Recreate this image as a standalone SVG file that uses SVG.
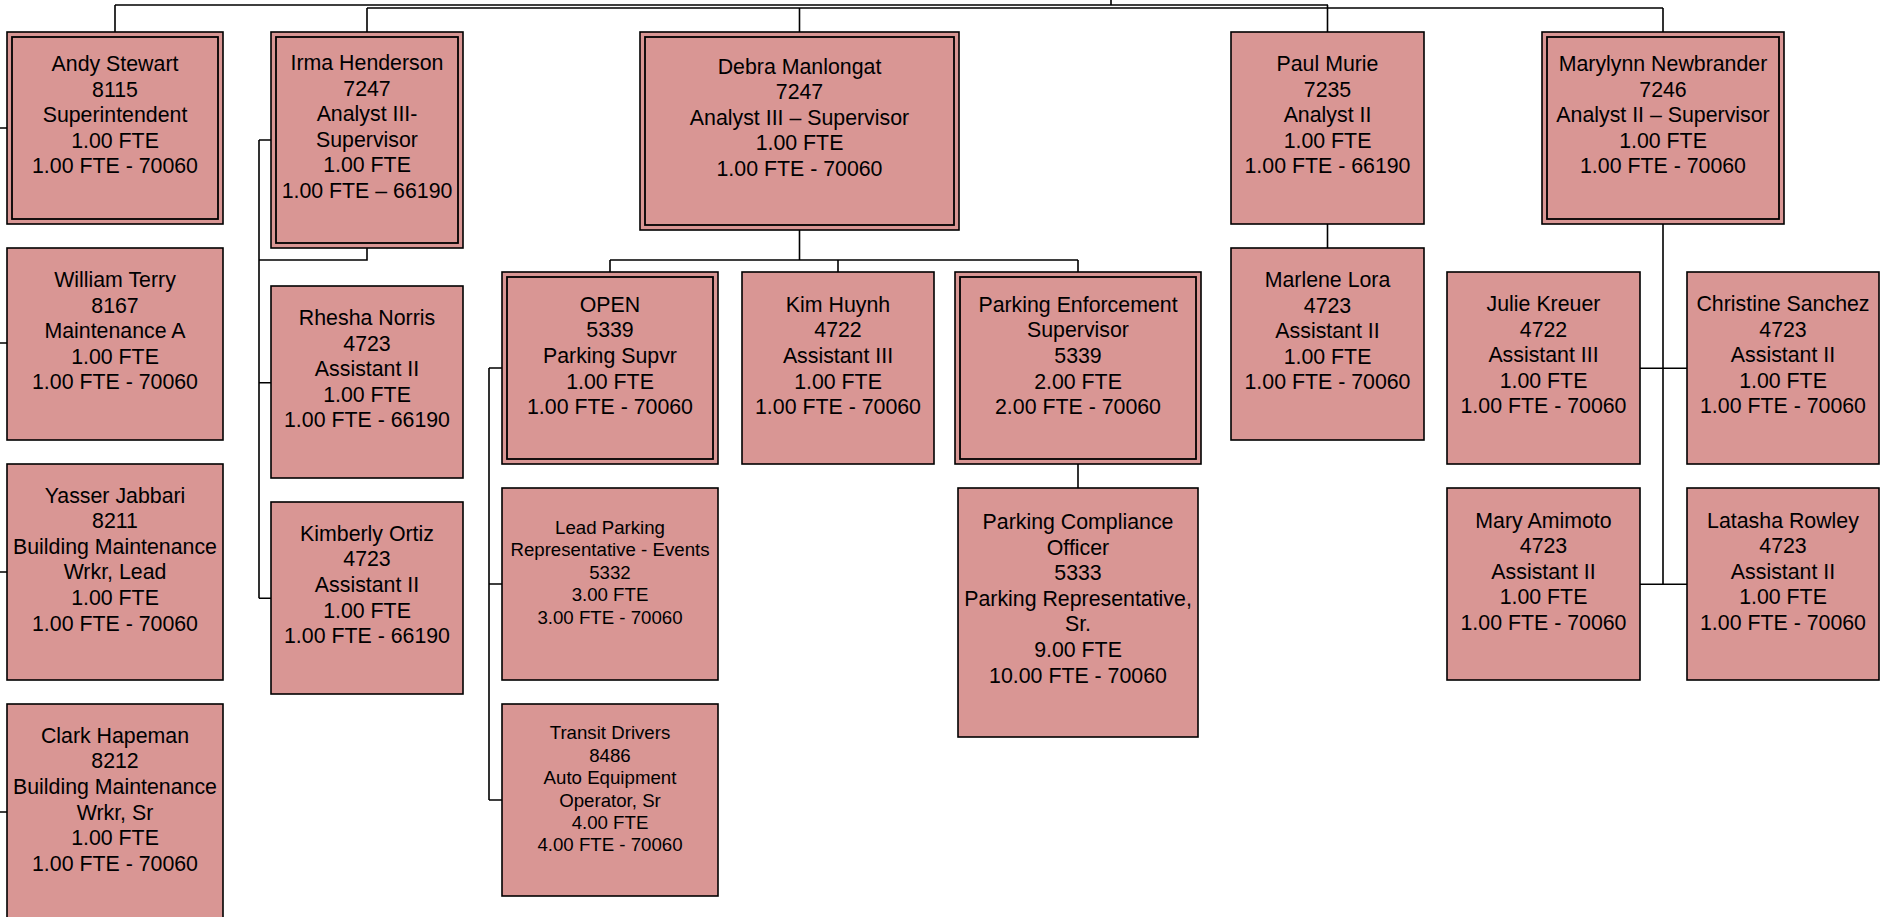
<svg xmlns="http://www.w3.org/2000/svg" width="1880" height="917" viewBox="0 0 1880 917">
<style>
.box{fill:#D99694;stroke:#000;stroke-width:1.6}
.inner{fill:none;stroke:#000;stroke-width:1.8}
.t{font-family:"Liberation Sans",Arial,sans-serif;font-size:21.33px;fill:#000;text-anchor:middle}
.s{font-size:18.67px}
.c{fill:none;stroke:#000;stroke-width:1.6}
</style>
<rect width="1880" height="917" fill="#fff"/>
<g id="connectors" class="c">
<path d="M115,5H1328M367,8H1663M1111,0V5"/>
<path d="M115,5V32M367,8V32M799.5,8V32M1327.5,5V32M1663,8V32"/>
<path d="M0,128H7M0,343H7M0,572H7M0,812H7"/>
<path d="M367,248V260H259M259,140H271M259,140V598.3M259,382.7H271M259,598.3H271"/>
<path d="M799.5,230V260M610,260H1078M610,260V272M838,260V272M1078,260V272"/>
<path d="M489,368H502M489,368V800M489,584H502M489,800H502"/>
<path d="M1078,464V488"/>
<path d="M1327.5,224V248"/>
<path d="M1663,224V584.3M1640,368.3H1687M1640,584.3H1687"/>
</g>
<g id="andy-stewart">
<rect class="box" x="7" y="32" width="216" height="192"/>
<rect class="inner" x="12" y="37" width="206" height="182"/>
<text class="t" x="115" y="71"><tspan x="115">Andy Stewart</tspan><tspan x="115" dy="25.6">8115</tspan><tspan x="115" dy="25.6">Superintendent</tspan><tspan x="115" dy="25.6">1.00 FTE</tspan><tspan x="115" dy="25.6">1.00 FTE - 70060</tspan></text>
</g>
<g id="william-terry">
<rect class="box" x="7" y="248" width="216" height="192"/>
<text class="t" x="115" y="287"><tspan x="115">William Terry</tspan><tspan x="115" dy="25.6">8167</tspan><tspan x="115" dy="25.6">Maintenance A</tspan><tspan x="115" dy="25.6">1.00 FTE</tspan><tspan x="115" dy="25.6">1.00 FTE - 70060</tspan></text>
</g>
<g id="yasser-jabbari">
<rect class="box" x="7" y="464" width="216" height="216"/>
<text class="t" x="115" y="502.5"><tspan x="115">Yasser Jabbari</tspan><tspan x="115" dy="25.6">8211</tspan><tspan x="115" dy="25.6">Building Maintenance</tspan><tspan x="115" dy="25.6">Wrkr, Lead</tspan><tspan x="115" dy="25.6">1.00 FTE</tspan><tspan x="115" dy="25.6">1.00 FTE - 70060</tspan></text>
</g>
<g id="clark-hapeman">
<rect class="box" x="7" y="704" width="216" height="220"/>
<text class="t" x="115" y="742.7"><tspan x="115">Clark Hapeman</tspan><tspan x="115" dy="25.6">8212</tspan><tspan x="115" dy="25.6">Building Maintenance</tspan><tspan x="115" dy="25.6">Wrkr, Sr</tspan><tspan x="115" dy="25.6">1.00 FTE</tspan><tspan x="115" dy="25.6">1.00 FTE - 70060</tspan></text>
</g>
<g id="irma-henderson">
<rect class="box" x="271" y="32" width="192" height="216"/>
<rect class="inner" x="276" y="37" width="182" height="206"/>
<text class="t" x="367" y="70"><tspan x="367">Irma Henderson</tspan><tspan x="367" dy="25.6">7247</tspan><tspan x="367" dy="25.6">Analyst III-</tspan><tspan x="367" dy="25.6">Supervisor</tspan><tspan x="367" dy="25.6">1.00 FTE</tspan><tspan x="367" dy="25.6">1.00 FTE – 66190</tspan></text>
</g>
<g id="rhesha-norris">
<rect class="box" x="271" y="286" width="192" height="192"/>
<text class="t" x="367" y="325"><tspan x="367">Rhesha Norris</tspan><tspan x="367" dy="25.6">4723</tspan><tspan x="367" dy="25.6">Assistant II</tspan><tspan x="367" dy="25.6">1.00 FTE</tspan><tspan x="367" dy="25.6">1.00 FTE - 66190</tspan></text>
</g>
<g id="kimberly-ortiz">
<rect class="box" x="271" y="502" width="192" height="192"/>
<text class="t" x="367" y="540.7"><tspan x="367">Kimberly Ortiz</tspan><tspan x="367" dy="25.6">4723</tspan><tspan x="367" dy="25.6">Assistant II</tspan><tspan x="367" dy="25.6">1.00 FTE</tspan><tspan x="367" dy="25.6">1.00 FTE - 66190</tspan></text>
</g>
<g id="debra-manlongat">
<rect class="box" x="640" y="32" width="319" height="198"/>
<rect class="inner" x="645" y="37" width="309" height="188"/>
<text class="t" x="799.5" y="74"><tspan x="799.5">Debra Manlongat</tspan><tspan x="799.5" dy="25.4">7247</tspan><tspan x="799.5" dy="25.4">Analyst III – Supervisor</tspan><tspan x="799.5" dy="25.4">1.00 FTE</tspan><tspan x="799.5" dy="25.4">1.00 FTE - 70060</tspan></text>
</g>
<g id="open-parking-supvr">
<rect class="box" x="502" y="272" width="216" height="192"/>
<rect class="inner" x="507" y="277" width="206" height="182"/>
<text class="t" x="610" y="311.7"><tspan x="610">OPEN</tspan><tspan x="610" dy="25.6">5339</tspan><tspan x="610" dy="25.6">Parking Supvr</tspan><tspan x="610" dy="25.6">1.00 FTE</tspan><tspan x="610" dy="25.6">1.00 FTE - 70060</tspan></text>
</g>
<g id="kim-huynh">
<rect class="box" x="742" y="272" width="192" height="192"/>
<text class="t" x="838" y="311.7"><tspan x="838">Kim Huynh</tspan><tspan x="838" dy="25.6">4722</tspan><tspan x="838" dy="25.6">Assistant III</tspan><tspan x="838" dy="25.6">1.00 FTE</tspan><tspan x="838" dy="25.6">1.00 FTE - 70060</tspan></text>
</g>
<g id="parking-enforcement-supervisor">
<rect class="box" x="955" y="272" width="246" height="192"/>
<rect class="inner" x="960" y="277" width="236" height="182"/>
<text class="t" x="1078" y="311.7"><tspan x="1078">Parking Enforcement</tspan><tspan x="1078" dy="25.6">Supervisor</tspan><tspan x="1078" dy="25.6">5339</tspan><tspan x="1078" dy="25.6">2.00 FTE</tspan><tspan x="1078" dy="25.6">2.00 FTE - 70060</tspan></text>
</g>
<g id="lead-parking-representative">
<rect class="box" x="502" y="488" width="216" height="192"/>
<text class="t s" x="610" y="534"><tspan x="610">Lead Parking</tspan><tspan x="610" dy="22.4">Representative - Events</tspan><tspan x="610" dy="22.4">5332</tspan><tspan x="610" dy="22.4">3.00 FTE</tspan><tspan x="610" dy="22.4">3.00 FTE - 70060</tspan></text>
</g>
<g id="transit-drivers">
<rect class="box" x="502" y="704" width="216" height="192"/>
<text class="t s" x="610" y="739.3"><tspan x="610">Transit Drivers</tspan><tspan x="610" dy="22.4">8486</tspan><tspan x="610" dy="22.4">Auto Equipment</tspan><tspan x="610" dy="22.4">Operator, Sr</tspan><tspan x="610" dy="22.4">4.00 FTE</tspan><tspan x="610" dy="22.4">4.00 FTE - 70060</tspan></text>
</g>
<g id="parking-compliance-officer">
<rect class="box" x="958" y="488" width="240" height="249"/>
<text class="t" x="1078" y="529"><tspan x="1078">Parking Compliance</tspan><tspan x="1078" dy="25.6">Officer</tspan><tspan x="1078" dy="25.6">5333</tspan><tspan x="1078" dy="25.6">Parking Representative,</tspan><tspan x="1078" dy="25.6">Sr.</tspan><tspan x="1078" dy="25.6">9.00 FTE</tspan><tspan x="1078" dy="25.6">10.00 FTE - 70060</tspan></text>
</g>
<g id="paul-murie">
<rect class="box" x="1231" y="32" width="193" height="192"/>
<text class="t" x="1327.5" y="71"><tspan x="1327.5">Paul Murie</tspan><tspan x="1327.5" dy="25.6">7235</tspan><tspan x="1327.5" dy="25.6">Analyst II</tspan><tspan x="1327.5" dy="25.6">1.00 FTE</tspan><tspan x="1327.5" dy="25.6">1.00 FTE - 66190</tspan></text>
</g>
<g id="marlene-lora">
<rect class="box" x="1231" y="248" width="193" height="192"/>
<text class="t" x="1327.5" y="287"><tspan x="1327.5">Marlene Lora</tspan><tspan x="1327.5" dy="25.6">4723</tspan><tspan x="1327.5" dy="25.6">Assistant II</tspan><tspan x="1327.5" dy="25.6">1.00 FTE</tspan><tspan x="1327.5" dy="25.6">1.00 FTE - 70060</tspan></text>
</g>
<g id="marylynn-newbrander">
<rect class="box" x="1542" y="32" width="242" height="192"/>
<rect class="inner" x="1547" y="37" width="232" height="182"/>
<text class="t" x="1663" y="71"><tspan x="1663">Marylynn Newbrander</tspan><tspan x="1663" dy="25.6">7246</tspan><tspan x="1663" dy="25.6">Analyst II – Supervisor</tspan><tspan x="1663" dy="25.6">1.00 FTE</tspan><tspan x="1663" dy="25.6">1.00 FTE - 70060</tspan></text>
</g>
<g id="julie-kreuer">
<rect class="box" x="1447" y="272" width="193" height="192"/>
<text class="t" x="1543.5" y="311"><tspan x="1543.5">Julie Kreuer</tspan><tspan x="1543.5" dy="25.6">4722</tspan><tspan x="1543.5" dy="25.6">Assistant III</tspan><tspan x="1543.5" dy="25.6">1.00 FTE</tspan><tspan x="1543.5" dy="25.6">1.00 FTE - 70060</tspan></text>
</g>
<g id="christine-sanchez">
<rect class="box" x="1687" y="272" width="192" height="192"/>
<text class="t" x="1783" y="311"><tspan x="1783">Christine Sanchez</tspan><tspan x="1783" dy="25.6">4723</tspan><tspan x="1783" dy="25.6">Assistant II</tspan><tspan x="1783" dy="25.6">1.00 FTE</tspan><tspan x="1783" dy="25.6">1.00 FTE - 70060</tspan></text>
</g>
<g id="mary-amimoto">
<rect class="box" x="1447" y="488" width="193" height="192"/>
<text class="t" x="1543.5" y="527.5"><tspan x="1543.5">Mary Amimoto</tspan><tspan x="1543.5" dy="25.6">4723</tspan><tspan x="1543.5" dy="25.6">Assistant II</tspan><tspan x="1543.5" dy="25.6">1.00 FTE</tspan><tspan x="1543.5" dy="25.6">1.00 FTE - 70060</tspan></text>
</g>
<g id="latasha-rowley">
<rect class="box" x="1687" y="488" width="192" height="192"/>
<text class="t" x="1783" y="527.5"><tspan x="1783">Latasha Rowley</tspan><tspan x="1783" dy="25.6">4723</tspan><tspan x="1783" dy="25.6">Assistant II</tspan><tspan x="1783" dy="25.6">1.00 FTE</tspan><tspan x="1783" dy="25.6">1.00 FTE - 70060</tspan></text>
</g>
</svg>
